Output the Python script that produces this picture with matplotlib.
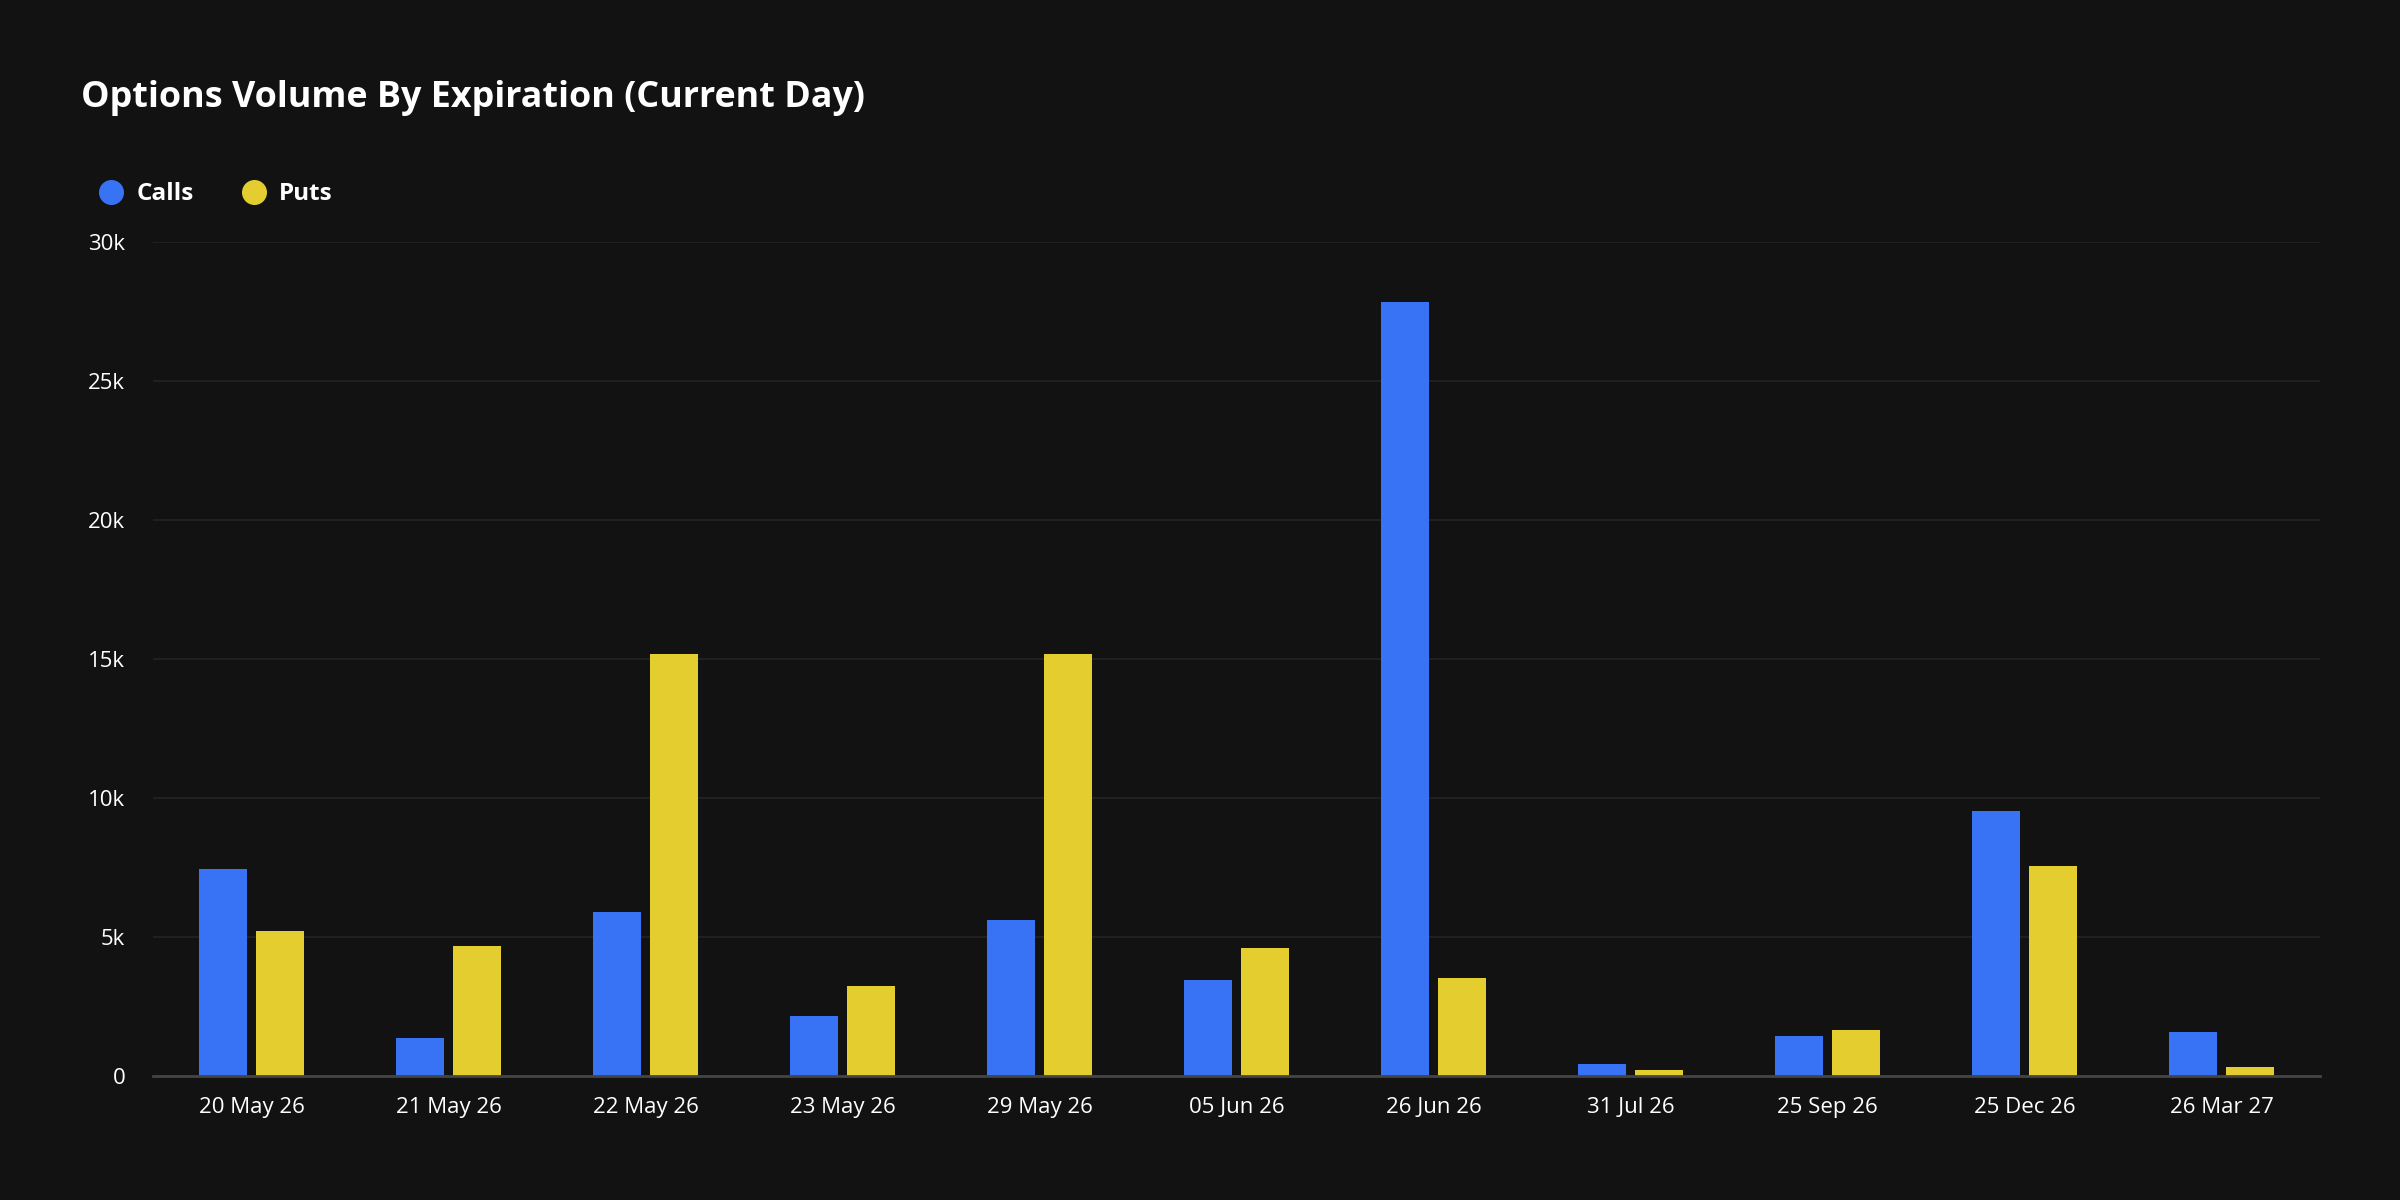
import matplotlib
matplotlib.use("Agg")
import matplotlib.pyplot as plt
from matplotlib.lines import Line2D
import numpy as np

categories = ["20 May 26", "21 May 26", "22 May 26", "23 May 26", "29 May 26",
              "05 Jun 26", "26 Jun 26", "31 Jul 26", "25 Sep 26", "25 Dec 26", "26 Mar 27"]
calls = [7430, 1380, 5890, 2150, 5610, 3470, 27850, 440, 1430, 9520, 1600]
puts = [5230, 4680, 15190, 3250, 15190, 4620, 3520, 220, 1650, 7540, 330]
yticks = [0, 5000, 10000, 15000, 20000, 25000, 30000]
ytick_labels = ["0", "5k", "10k", "15k", "20k", "25k", "30k"]

BG = "#121212"
BLUE = "#3873F5"
YELLOW = "#E3CD2F"

plt.rcParams['font.family'] = ['Open Sans', 'DejaVu Sans']

fig = plt.figure(figsize=(24, 12), dpi=100, facecolor=BG)
ax = fig.add_axes([153/2400, 1-1076/1200, (2320-153)/2400, (1076-242)/1200], facecolor=BG)

x = np.arange(len(categories))
w = 0.24
off = 0.145
ax.bar(x - off, calls, width=w, color=BLUE, zorder=3)
ax.bar(x + off, puts, width=w, color=YELLOW, zorder=3)

ax.set_xlim(-0.5, len(categories) - 0.5)
ax.set_ylim(0, 30000)
ax.set_yticks(yticks)
ax.set_yticklabels(ytick_labels)
ax.set_xticks(x)
ax.set_xticklabels(categories)
ax.tick_params(axis='both', length=0, colors='white', labelsize=16)
ax.tick_params(axis='y', pad=20)
ax.tick_params(axis='x', pad=15)
ax.grid(axis='y', color='#232323', linewidth=1.2, zorder=0)
for s in ['top', 'right', 'left']:
    ax.spines[s].set_visible(False)
ax.spines['bottom'].set_color('#444444')
ax.spines['bottom'].set_linewidth(2)
ax.spines['bottom'].set_zorder(4)

fig.text(81/2400, 1-98/1200, "Options Volume By Expiration (Current Day)",
         color='white', fontsize=25.8, fontweight='bold', va='center', ha='left')

handles = [Line2D([], [], marker='o', linestyle='none', markersize=17, color=BLUE),
           Line2D([], [], marker='o', linestyle='none', markersize=17, color=YELLOW)]
leg = fig.legend(handles, ["Calls", "Puts"], loc='center left',
                 bbox_to_anchor=(75/2400, 1-194.5/1200), ncol=2, frameon=False,
                 prop={'weight': 'bold', 'size': 17.5}, labelcolor='white',
                 handletextpad=0.45, columnspacing=1.85, handlelength=1.2)

fig.savefig("out.png", dpi=100, facecolor=BG)
